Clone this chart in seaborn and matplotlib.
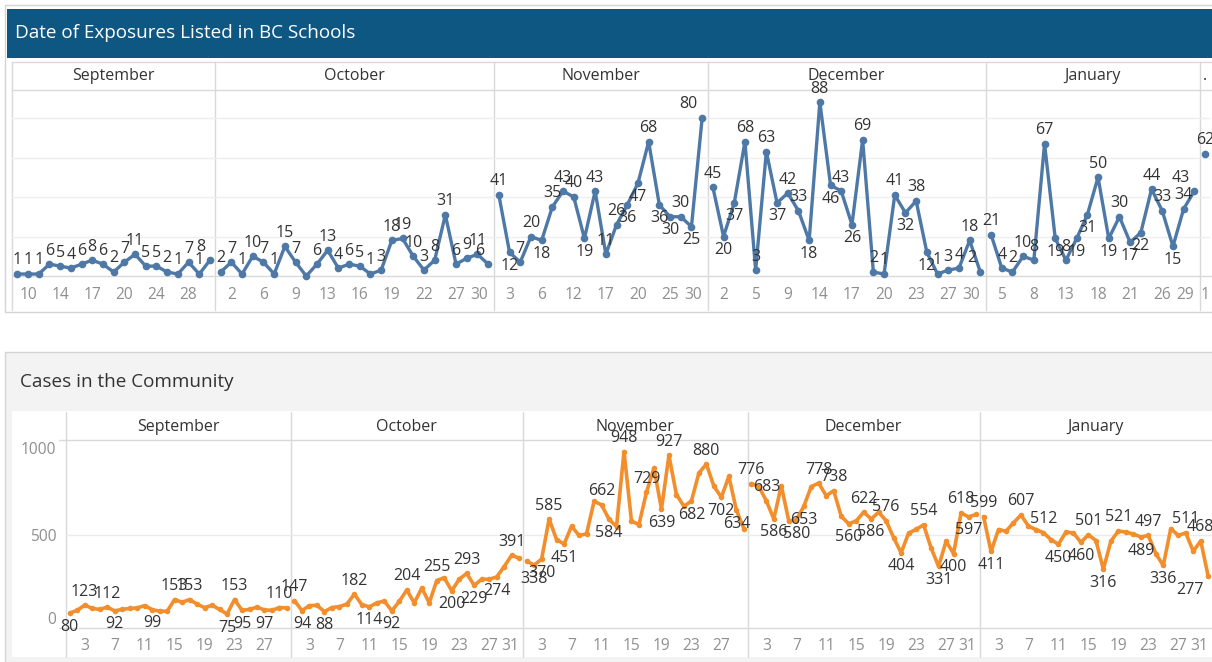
import matplotlib
matplotlib.use("Agg")
import matplotlib.pyplot as plt
import numpy as np
import pandas as pd
import seaborn as sns
from matplotlib.patches import Rectangle

# ---------------- data: school exposures ----------------
school_months = ["September", "October", "November", "December", "January", "."]

sep_days = [9, 10, 11, 13, 14, 15, 16, 17, 18, 19, 20, 22, 23, 24, 25, 27, 28, 29, 30]
sep_exp = [1, 1, 1, 6, 5, 4, 6, 8, 6, 2, 7, 11, 5, 5, 2, 1, 7, 1, 8]
sep_ticks = [10, 14, 17, 20, 24, 28]

oct_days = [1, 2, 3, 5, 6, 7, 8, 9, 10, 12, 13, 14, 15, 16, 17, 18, 19, 20, 21, 22, 23, 26, 27, 28, 29, 30]
oct_exp = [2, 7, 1, 10, 7, 1, 15, 7, 0, 6, 13, 4, 6, 5, 1, 3, 18, 19, 10, 3, 8, 31, 6, 9, 11, 6]
oct_ticks = [2, 6, 9, 13, 16, 19, 22, 27, 30]

nov_days = [2, 3, 4, 5, 6, 9, 10, 12, 13, 16, 17, 18, 19, 20, 23, 24, 25, 26, 27, 30]
nov_exp = [41, 12, 7, 20, 18, 35, 43, 40, 19, 43, 11, 26, 36, 47, 68, 36, 30, 30, 25, 80]
nov_ticks = [3, 6, 12, 17, 20, 25, 30]

dec_days = [1, 2, 3, 4, 5, 7, 8, 9, 10, 11, 14, 15, 16, 17, 18, 19, 20, 21, 22, 23, 24, 26, 27, 28, 29, 30]
dec_exp = [45, 20, 37, 68, 3, 63, 37, 42, 33, 18, 88, 46, 43, 26, 69, 2, 1, 41, 32, 38, 12, 1, 3, 4, 18, 2]
dec_ticks = [2, 5, 9, 14, 17, 20, 23, 27, 30]

jan_days = [4, 5, 6, 7, 8, 11, 12, 13, 14, 15, 18, 19, 20, 21, 22, 25, 26, 27, 28, 29]
jan_exp = [21, 4, 2, 10, 8, 67, 19, 8, 19, 31, 50, 19, 30, 17, 22, 44, 33, 15, 34, 43]
jan_ticks = [5, 8, 13, 18, 21, 26, 29]

feb_days = [1]
feb_exp = [62]
feb_ticks = [1]

# ---------------- data: community cases (daily) ----------------
comm_months = ["September", "October", "November", "December", "January"]
comm_sep = [80, 95, 123, 105, 100, 112, 92, 100, 105, 108, 120, 99, 90, 90, 153,
            138, 153, 128, 110, 122, 100, 75, 153, 95, 100, 112, 97, 95, 110, 108]
comm_oct = [147, 94, 120, 122, 88, 110, 115, 128, 182, 125, 114, 135, 145, 92, 143, 204,
            135, 215, 135, 255, 270, 200, 262, 293, 229, 262, 262, 274, 330, 391, 375]
comm_nov = [360, 338, 370, 585, 475, 451, 547, 497, 506, 680, 662, 584, 545, 948, 574,
            556, 729, 860, 639, 927, 717, 654, 682, 833, 880, 762, 702, 815, 634, 534]
comm_dec = [776, 760, 683, 586, 765, 575, 580, 653, 760, 778, 710, 738, 600, 560, 575, 622,
            586, 622, 576, 485, 404, 510, 530, 554, 430, 331, 466, 400, 618, 597, 610]
comm_jan = [599, 411, 529, 520, 565, 607, 547, 529, 512, 475, 450, 515, 511, 460, 501, 470,
            316, 466, 521, 515, 505, 489, 497, 400, 336, 534, 497, 511, 412, 468, 277]

# days that carry a value label
comm_sep_lab = [1, 3, 6, 7, 12, 15, 17, 22, 23, 24, 27, 29]
comm_oct_lab = [1, 2, 5, 9, 11, 14, 16, 20, 22, 24, 25, 28, 30]
comm_nov_lab = [2, 3, 4, 6, 11, 12, 14, 17, 19, 20, 23, 25, 27, 29]
comm_dec_lab = [1, 3, 4, 7, 8, 10, 12, 14, 16, 17, 19, 21, 24, 26, 28, 29, 30]
comm_jan_lab = [1, 2, 6, 9, 11, 14, 15, 17, 19, 22, 23, 25, 28, 30, 31]

comm_tick_days = [3, 7, 11, 15, 19, 23, 27, 31]
comm_yticks = [0, 500, 1000]

# ---------------- styling ----------------
sns.set_theme(style="white")
plt.rcParams["font.family"] = ["Open Sans", "DejaVu Sans"]

BLUE = "#4e79a7"
ORANGE = "#f28e2b"
TITLE_BAR = "#0f5783"
GRID = "#d9d9d9"
TXT = "#333333"
TICK = "#8f8f8f"
FS_LAB = 11.5
FS_TICK = 11.2
FS_HEAD = 11.5

W, H = 1212, 662
fig = plt.figure(figsize=(W / 100, H / 100), dpi=100)
fig.patch.set_facecolor("white")

bg = fig.add_axes([0, 0, 1, 1], zorder=0)
bg.set_xlim(0, W)
bg.set_ylim(H, 0)
bg.axis("off")


def px_axes(x0, y0, x1, y1):
    ax = fig.add_axes([x0 / W, 1 - y1 / H, (x1 - x0) / W, (y1 - y0) / H], zorder=2)
    ax.patch.set_visible(False)
    for s in ax.spines.values():
        s.set_visible(False)
    return ax


def label_points(ax, xs, ys, mask, fs, min_below, last_left):
    n = len(ys)
    for i in range(n):
        if not mask[i]:
            continue
        if i == n - 1 and last_left:
            below = n > 1 and ys[i] < ys[i - 1] and ys[i] >= min_below
            ax.annotate(str(ys[i]), (xs[i], ys[i]),
                        xytext=(-3, -4 if below else 4), textcoords="offset points",
                        ha="right", va="top" if below else "bottom",
                        fontsize=fs, color=TXT, annotation_clip=False, zorder=5)
            continue
        nb = []
        if i > 0:
            nb.append(ys[i - 1])
        if i < n - 1:
            nb.append(ys[i + 1])
        below = (ys[i] < np.mean(nb)) and ys[i] >= min_below if nb else False
        ax.annotate(str(ys[i]), (xs[i], ys[i]),
                    xytext=(0, -4 if below else 4), textcoords="offset points",
                    ha="center", va="top" if below else "bottom",
                    fontsize=fs, color=TXT, annotation_clip=False, zorder=5)


# ================= TOP CARD =================
bg.add_patch(Rectangle((5, 5), W, 307, facecolor="white", edgecolor="#d4d4d4", lw=1))
bg.add_patch(Rectangle((7, 9), W, 49, facecolor=TITLE_BAR, edgecolor="none"))
bg.text(15, 33, "Date of Exposures Listed in BC Schools", color="white",
        fontsize=13.6, va="center", ha="left")

school_days = [sep_days, oct_days, nov_days, dec_days, jan_days, feb_days]
school_vals = [sep_exp, oct_exp, nov_exp, dec_exp, jan_exp, feb_exp]
school_ticks = [sep_ticks, oct_ticks, nov_ticks, dec_ticks, jan_ticks, feb_ticks]

T_X0, T_STEP = 12, 10.7
T_HEAD0, T_HEAD1, T_BOT, T_END = 62, 90, 276, 310
T_YMAX = 94.2

bg.plot([T_X0, W], [T_HEAD0, T_HEAD0], color=GRID, lw=1)
bg.plot([T_X0, W], [T_HEAD1, T_HEAD1], color=GRID, lw=1)
bg.plot([T_X0, W], [T_BOT, T_BOT], color=GRID, lw=1)
bg.plot([T_X0, T_X0], [T_HEAD0, T_END], color=GRID, lw=1)

x = T_X0
for month, days, vals, ticks in zip(school_months, school_days, school_vals, school_ticks):
    n = len(days)
    x1 = x + n * T_STEP
    ax = px_axes(x, T_HEAD1, x1, T_BOT)
    df = pd.DataFrame({"pos": np.arange(n), "value": vals})
    for g in [20, 40, 60, 80]:
        ax.axhline(g, color="#efefef", lw=1, zorder=0)
    sns.lineplot(data=df, x="pos", y="value", ax=ax, color=BLUE, linewidth=2.4,
                 marker="o", markersize=5.5, markeredgewidth=0, clip_on=False, zorder=3)
    ax.set_xlim(-0.5, n - 0.5)
    ax.set_ylim(0, T_YMAX)
    ax.set_xlabel("")
    ax.set_ylabel("")
    ax.set_yticks([])
    tpos = [days.index(t) for t in ticks]
    ax.set_xticks(tpos)
    ax.set_xticklabels([str(t) for t in ticks])
    ax.tick_params(axis="x", length=0, pad=8, labelsize=FS_TICK, labelcolor=TICK)
    if n > 1 and tpos[-1] == n - 1:
        ax.get_xticklabels()[-1].set_ha("right")
    label_points(ax, list(range(n)), vals, [v > 0 for v in vals], FS_LAB,
                 min_below=12, last_left=n > 1)
    bg.text((x + x1) / 2, 76, month, ha="center", va="center", fontsize=FS_HEAD, color=TXT)
    if x > T_X0:
        bg.plot([x, x], [T_HEAD0, T_END], color=GRID, lw=1)
    x = x1

# ================= BOTTOM CARD =================
bg.add_patch(Rectangle((5, 352), W, 320, facecolor="#f3f3f3", edgecolor="#d4d4d4", lw=1))
bg.add_patch(Rectangle((12, 411), W, 246, facecolor="white", edgecolor="none"))
bg.text(20, 382, "Cases in the Community", color=TXT, fontsize=13.6, va="center", ha="left")

comm_vals = [comm_sep, comm_oct, comm_nov, comm_dec, comm_jan]
comm_labs = [comm_sep_lab, comm_oct_lab, comm_nov_lab, comm_dec_lab, comm_jan_lab]

B_X0, B_STEP = 66, 7.49
B_HEAD0, B_HEAD1, B_BOT, B_END = 412, 440, 628, 657
B_YMAX = 1010

bg.plot([59, W], [B_HEAD1, B_HEAD1], color=GRID, lw=1)
bg.plot([59, W], [B_BOT, B_BOT], color=GRID, lw=1)
bg.plot([B_X0, B_X0], [B_HEAD0, B_END], color=GRID, lw=1)

x = B_X0
for k, (month, vals, labs) in enumerate(zip(comm_months, comm_vals, comm_labs)):
    n = len(vals)
    x1 = x + n * B_STEP
    ax = px_axes(x, B_HEAD1, x1, B_BOT)
    days = list(range(1, n + 1))
    df = pd.DataFrame({"day": days, "value": vals})
    ax.axhline(500, color="#ebebeb", lw=1, zorder=0)
    sns.lineplot(data=df, x="day", y="value", ax=ax, color=ORANGE, linewidth=2.6,
                 marker="o", markersize=4, markeredgewidth=0, clip_on=False, zorder=3)
    ax.set_xlim(0.5, n + 0.5)
    ax.set_ylim(0, B_YMAX)
    ax.set_xlabel("")
    ax.set_ylabel("")
    ticks = [d for d in comm_tick_days if d <= n]
    ax.set_xticks(ticks)
    ax.set_xticklabels([str(d) for d in ticks])
    ax.tick_params(axis="x", length=0, pad=7, labelsize=FS_TICK, labelcolor=TICK)
    if ticks[-1] == 31:
        ax.get_xticklabels()[-1].set_ha("right")
    if k == 0:
        ax.set_yticks(comm_yticks)
        ax.set_yticklabels([str(t) for t in comm_yticks])
        ax.tick_params(axis="y", length=0, pad=7, labelsize=FS_TICK, labelcolor=TICK)
        tl = ax.get_yticklabels()
        tl[0].set_va("bottom")
        tl[-1].set_va("top")
    else:
        ax.set_yticks([])
    label_points(ax, days, vals, [d in labs for d in days], FS_LAB,
                 min_below=0, last_left=(k == len(comm_months) - 1))
    bg.text((x + x1) / 2, 427, month, ha="center", va="center", fontsize=FS_HEAD, color=TXT)
    if k > 0:
        bg.plot([x, x], [B_HEAD0, B_END], color=GRID, lw=1)
    x = x1

fig.savefig("out.png", dpi=100, facecolor="white")
